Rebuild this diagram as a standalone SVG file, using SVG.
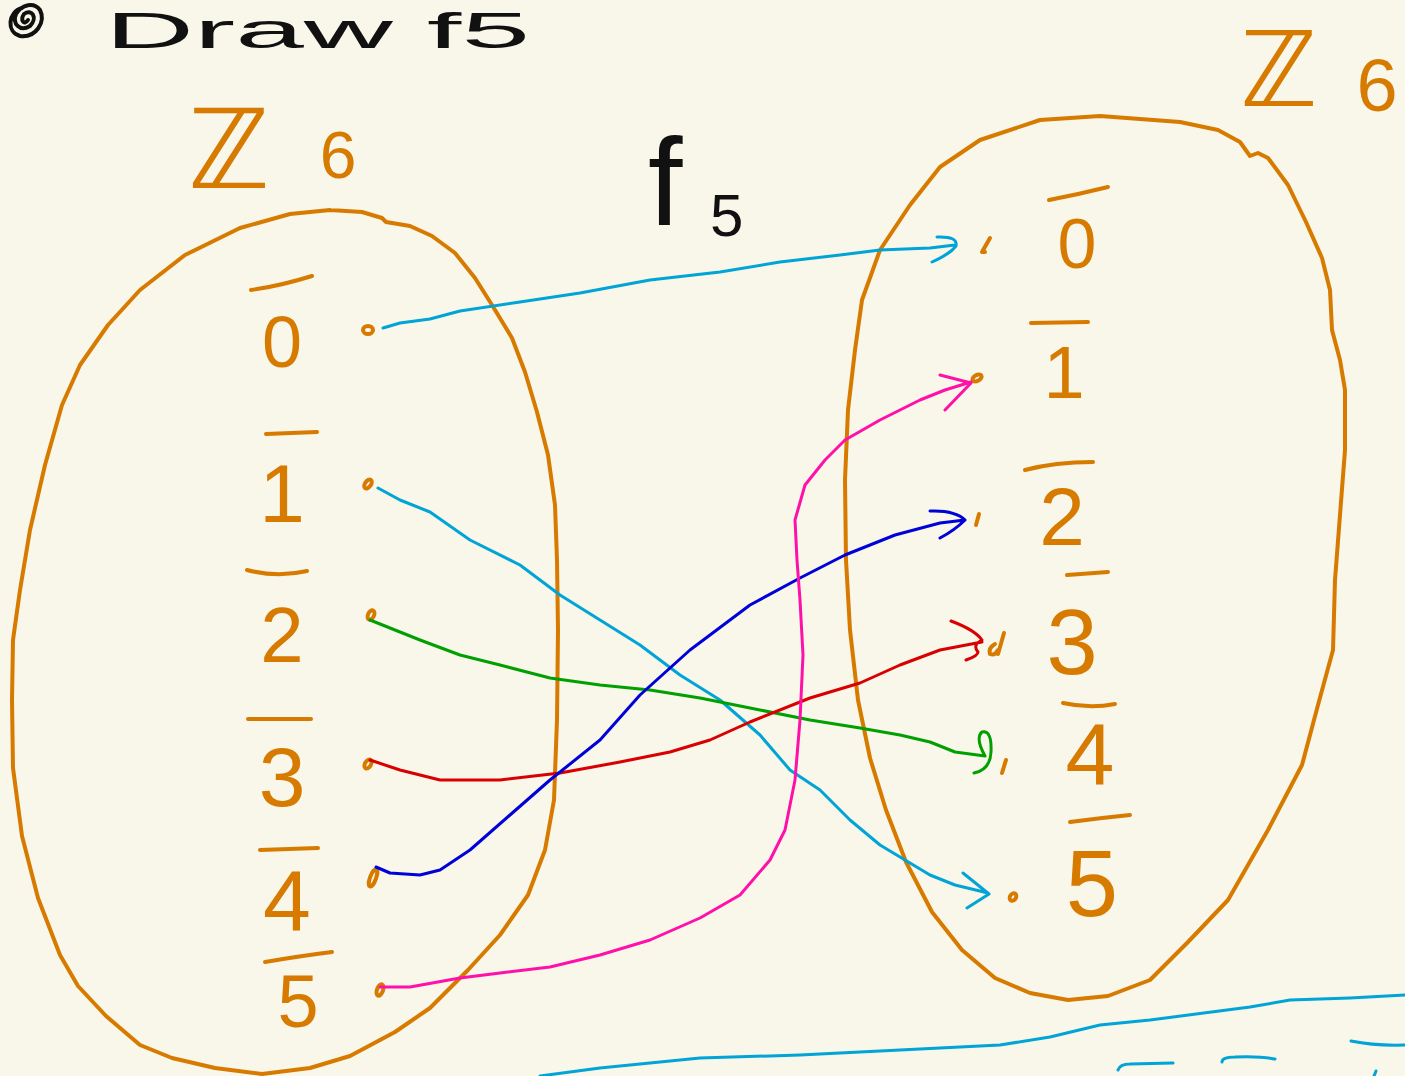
<svg xmlns="http://www.w3.org/2000/svg" width="1405" height="1076" viewBox="0 0 1405 1076">
<style>
.bg{fill:#F9F6EA}
.set{fill:none;stroke:#D77A00;stroke-width:4;stroke-linecap:round;stroke-linejoin:round}
.bar{fill:none;stroke:#D77A00;stroke-width:4;stroke-linecap:round}
.dot{fill:none;stroke:#D77A00;stroke-width:4;stroke-linecap:round;stroke-linejoin:round}
.dig{fill:#D77A00;font-family:"Liberation Sans",Arial,sans-serif;text-anchor:middle}
.zz{fill:#D77A00;font-family:"DejaVu Sans",sans-serif}
.ink{fill:#111;font-family:"Liberation Sans",Arial,sans-serif}
.c{fill:none;stroke-width:3;stroke-linecap:round;stroke-linejoin:round}
.cy{stroke:#00A4D6}.gr{stroke:#00A000}.rd{stroke:#D80000}.bl{stroke:#0000D8}.pk{stroke:#FF10A8}
</style>
<rect class="bg" x="0" y="0" width="1405" height="1076"/>

<g id="title">
<path d="M22 8 C8 12 6 32 20 36 C36 38 46 22 40 10 C34 2 22 4 16 14 C12 24 20 32 30 26 C38 18 32 8 24 14 C20 20 24 26 28 20" fill="none" stroke="#111" stroke-width="4" stroke-linecap="round"/>
<text class="ink" x="105" y="48" font-size="50" textLength="425" lengthAdjust="spacingAndGlyphs">Draw f5</text>
</g>

<g id="map-name">
<text class="ink" x="648" y="225" font-size="124" font-weight="300">f</text>
<text class="ink" x="710" y="236" font-size="60">5</text>
</g>

<g id="domain">
<path class="set" d="M330 210 L362 212 L382 218 L386 222 L410 226 L432 236 L455 253 L475 278 L492 305 L512 338 L525 372 L537 412 L548 455 L555 505 L557 560 L558 630 L557 720 L554 800 L545 850 L528 895 L500 935 L468 970 L430 1008 L395 1032 L350 1056 L310 1068 L262 1074 L215 1068 L172 1058 L140 1045 L106 1016 L78 986 L60 955 L38 898 L22 836 L13 768 L12 700 L13 640 L20 590 L30 530 L45 465 L62 405 L80 365 L108 325 L140 290 L185 255 L240 228 L290 214 L330 210"/>
<text class="zz" x="188" y="188" font-size="110">ℤ</text>
<text class="dig" x="338" y="178" font-size="66">6</text>
</g>

<g id="codomain">
<path class="set" d="M1040 120 L1100 116 L1180 122 L1218 130 L1240 142 L1250 156 L1258 153 L1268 158 L1288 185 L1306 222 L1322 258 L1330 290 L1332 330 L1340 360 L1345 390 L1345 450 L1340 515 L1335 580 L1333 650 L1318 705 L1302 765 L1268 830 L1228 900 L1188 942 L1150 980 L1108 996 L1068 1000 L1030 993 L995 978 L962 950 L932 912 L906 862 L886 810 L870 758 L858 700 L850 630 L846 560 L845 480 L848 410 L855 350 L862 300 L880 250 L910 205 L940 167 L980 140 L1040 120"/>
<text class="zz" x="1240" y="106" font-size="104">ℤ</text>
<text class="dig" x="1377" y="111" font-size="74">6</text>
</g>

<g id="label-left-0"><path class="bar" d="M251 290 Q280 286 312 276"/><text class="dig" x="282" y="367" font-size="72">0</text></g>
<g id="label-left-1"><path class="bar" d="M266 434 L317 432"/><text class="dig" x="282" y="522" font-size="82">1</text></g>
<g id="label-left-2"><path class="bar" d="M247 570 Q277 578 307 571"/><text class="dig" x="282" y="662" font-size="78">2</text></g>
<g id="label-left-3"><path class="bar" d="M248 719 L311 719"/><text class="dig" x="282" y="806" font-size="84">3</text></g>
<g id="label-left-4"><path class="bar" d="M260 850 L318 848"/><text class="dig" x="287" y="930" font-size="86">4</text></g>
<g id="label-left-5"><path class="bar" d="M265 962 Q300 956 332 952"/><text class="dig" x="298" y="1027" font-size="74">5</text></g>

<g id="label-right-0"><path class="bar" d="M1049 200 Q1080 194 1108 187"/><text class="dig" x="1077" y="268" font-size="70">0</text></g>
<g id="label-right-1"><path class="bar" d="M1031 323 L1088 322"/><text class="dig" x="1064" y="398" font-size="74">1</text></g>
<g id="label-right-2"><path class="bar" d="M1025 470 Q1055 462 1093 462"/><text class="dig" x="1062" y="545" font-size="82">2</text></g>
<g id="label-right-3"><path class="bar" d="M1067 575 L1108 572"/><text class="dig" x="1072" y="674" font-size="92">3</text></g>
<g id="label-right-4"><path class="bar" d="M1063 703 Q1090 709 1115 704"/><text class="dig" x="1090" y="785" font-size="88">4</text></g>
<g id="label-right-5"><path class="bar" d="M1070 822 Q1100 818 1130 815"/><text class="dig" x="1092" y="916" font-size="94">5</text></g>

<g id="points">
<ellipse class="dot" cx="368" cy="330" rx="5" ry="4"/>
<ellipse class="dot" cx="368" cy="484" rx="3" ry="5" transform="rotate(35 368 484)"/>
<ellipse class="dot" cx="371" cy="615" rx="3" ry="5" transform="rotate(25 371 615)"/>
<ellipse class="dot" cx="368" cy="764" rx="3" ry="5" transform="rotate(30 368 764)"/>
<ellipse class="dot" cx="373" cy="878" rx="3" ry="9" transform="rotate(20 373 878)"/>
<ellipse class="dot" cx="380" cy="990" rx="3" ry="6" transform="rotate(20 380 990)"/>
<path class="dot" d="M990 238 L982 252 L985 252"/>
<ellipse class="dot" cx="977" cy="378" rx="5" ry="3" transform="rotate(-30 977 378)"/>
<path class="dot" d="M979 514 L976 525"/>
<path class="dot" d="M1004 633 L998 654 M995 644 Q988 648 990 654 Q995 656 998 650"/>
<path class="dot" d="M1006 760 L1002 773"/>
<ellipse class="dot" cx="1013" cy="897" rx="3" ry="4" transform="rotate(30 1013 897)"/>
</g>

<g id="connectors">
<path class="c cy" d="M383 328 L400 323 L430 319 L460 311 L520 302 L580 293 L650 280 L720 272 L780 262 L840 255 L880 250 L930 248 L955 245 M937 237 Q958 236 956 246 Q950 254 932 262"/>
<path class="c cy" d="M378 488 L400 500 L430 512 L470 540 L520 565 L560 595 L600 620 L640 645 L680 675 L720 700 L760 735 L790 770 L820 790 L850 820 L880 845 L905 860 L930 875 L955 885 L988 893 M963 873 L989 894 L967 908"/>
<path class="c gr" d="M370 620 L390 628 L420 640 L460 655 L500 665 L550 678 L600 685 L650 690 L700 698 L760 710 L810 720 L860 728 L900 735 L930 742 L955 752 L985 756 M985 756 Q975 738 982 732 Q992 730 991 752 Q990 770 974 773"/>
<path class="c rd" d="M370 760 L400 770 L440 780 L500 780 L560 773 L620 762 L670 752 L710 740 L750 722 L810 698 L860 683 L900 665 L940 650 L982 642 M951 621 Q975 630 982 640 Q972 645 978 652 Q978 656 966 660"/>
<path class="c bl" d="M376 867 L390 873 L420 875 L440 870 L470 850 L510 815 L550 780 L600 740 L640 695 L690 650 L750 605 L800 578 L845 555 L895 535 L940 523 L965 520 M930 511 Q955 510 965 520 Q955 530 940 538"/>
<path class="c pk" d="M380 987 L410 987 L460 978 L500 973 L550 967 L600 955 L650 940 L700 918 L740 895 L770 860 L785 830 L795 780 L800 720 L803 655 L800 600 L797 560 L795 520 L805 485 L825 460 L845 440 L880 420 L920 400 L945 390 L971 382 M940 375 L971 383 L945 410"/>
</g>

<g id="next-page">
<path class="c cy" d="M540 1076 L600 1068 L700 1058 L800 1055 L900 1050 L1000 1045 L1050 1037 L1100 1025 L1150 1020 L1250 1007 L1290 1000 L1350 998 L1405 995"/>
<path class="c cy" d="M1118 1070 Q1120 1064 1130 1064 L1173 1063"/>
<path class="c cy" d="M1222 1062 Q1222 1057 1235 1057 Q1260 1056 1275 1059"/>
<path class="c cy" d="M1351 1041 Q1375 1046 1405 1045"/>
<path class="c cy" d="M1376 1071 L1374 1076"/>
</g>
</svg>
